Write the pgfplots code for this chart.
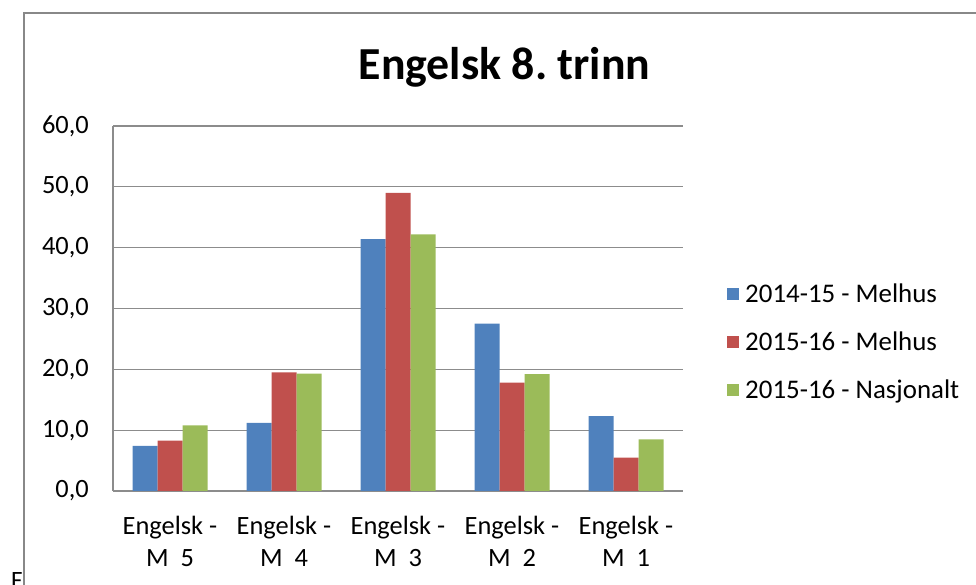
\documentclass[border=0pt]{standalone}
\usepackage{fontspec}
\setmainfont{Carlito}
\usepackage{pgfplots}
\pgfplotsset{compat=1.18}
\definecolor{serA}{HTML}{4F81BD}
\definecolor{serB}{HTML}{C0504D}
\definecolor{serC}{HTML}{9BBB59}
\definecolor{gridgray}{HTML}{8C8C8C}
\definecolor{framegray}{HTML}{888888}

\begin{document}
\frenchspacing
\begin{tikzpicture}[x=1bp,y=1bp]
\useasboundingbox (0,0) rectangle (976,585);
% outer frame of the chart (only left and top edges visible)
\draw[framegray, line width=2bp] (24,0) -- (24,572) -- (976,572);
\node[font=\fontsize{46}{52}\selectfont\bfseries] at (504.5,518) {Engelsk 8. trinn};
\node[anchor=north west, inner sep=0pt, font=\fontsize{25}{30}\selectfont] at (11,13) {F};
\begin{axis}[
  at={(113bp,94bp)}, anchor=south west,
  scale only axis, width=570bp, height=365bp,
  xmin=-0.5, xmax=4.5, ymin=0, ymax=60,
  ybar=0pt, bar width=25bp,
  ytick={0,10,...,60},
  xtick={0,...,4},
  xticklabels={{Engelsk -\\M\ \ 5},{Engelsk -\\M\ \ 4},{Engelsk -\\M\ \ 3},{Engelsk -\\M\ \ 2},{Engelsk -\\M\ \ 1}},
  axis x line*=bottom, axis y line*=left,
  axis line style={draw=gridgray, line width=1.2bp, -},
  ymajorgrids, grid style={draw=gridgray, line width=1.2bp},
  major tick length=0pt,
  tick label style={font=\fontsize{26.5}{32}\selectfont},
  yticklabel style={anchor=east, inner sep=0pt, xshift=-24bp,
    /pgf/number format/.cd, fixed, fixed zerofill, precision=1, use comma, assume math mode=true},
  xticklabel style={anchor=north, align=center, inner sep=0pt, yshift=-25bp},
  legend style={at={(1.072,0.408)}, anchor=west, draw=none, fill=none,
    font=\fontsize{27}{32}\selectfont, row sep=28bp, column sep=6bp,
    nodes={inner sep=0pt}},
  legend cell align=left,
  legend image code/.code={\fill[#1] (0bp,-6bp) rectangle (12bp,6bp);},
]
\addplot[fill=serA, draw=none] coordinates {(0,7.4) (1,11.2) (2,41.4) (3,27.5) (4,12.3)};
\addplot[fill=serB, draw=none] coordinates {(0,8.3) (1,19.5) (2,49.0) (3,17.8) (4,5.5)};
\addplot[fill=serC, draw=none] coordinates {(0,10.8) (1,19.3) (2,42.2) (3,19.2) (4,8.5)};
\legend{2014-15 - Melhus, 2015-16 - Melhus, 2015-16 - Nasjonalt}
\end{axis}
\end{tikzpicture}
\end{document}
